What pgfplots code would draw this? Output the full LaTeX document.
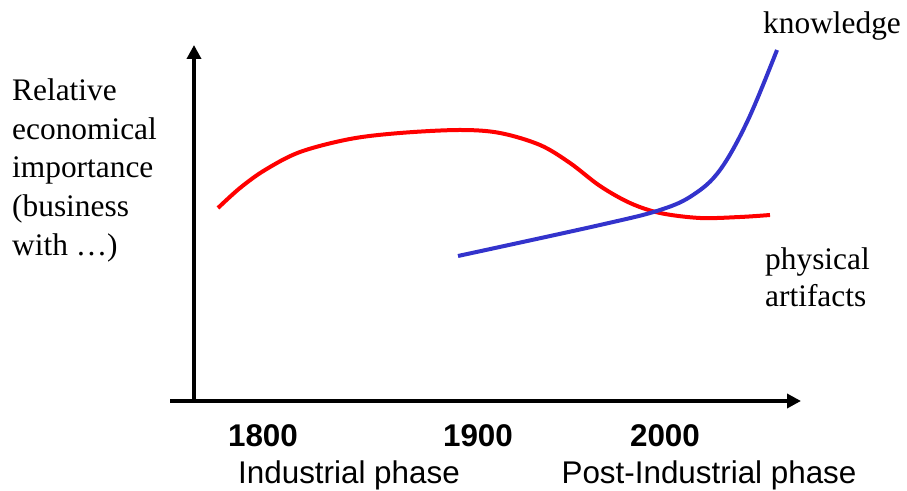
\documentclass[border=0pt]{standalone}
\usepackage{pgfplots}
\pgfplotsset{compat=1.18}
\usepackage{fontspec}
\setmainfont{Liberation Serif}
\newfontfamily\arial{Liberation Sans}
\usetikzlibrary{arrows.meta}
\definecolor{kblue}{RGB}{51,51,204}
\begin{document}
\begin{tikzpicture}
\begin{axis}[x=1bp,y=1bp,xmin=0,xmax=907,ymin=0,ymax=491,hide axis,clip=false,scale only axis]
\path (axis cs:0,0) rectangle (axis cs:907,491);
\draw[line width=4bp,-{Triangle[length=14bp,width=14bp]}] (axis cs:194,89) -- (axis cs:194,446);
\draw[line width=4bp,-{Triangle[length=14bp,width=14bp]}] (axis cs:170,90) -- (axis cs:801,90);
\addplot[red,line width=4bp,smooth,tension=0.55] coordinates {(218,283) (240,303) (265,321) (300,339) (350,352) (400,358) (460,361) (500,358) (540,346) (570,328) (600,305) (630,288) (660,278) (700,273) (740,274) (770,276)};
\addplot[kblue,line width=4bp,smooth,tension=0.6] coordinates {(458,235) (600,266) (660,281) (693,296) (720,321) (748,371) (777,441)};
\begin{scope}[every node/.style={inner sep=0pt,font=\fontsize{31.5}{38}\selectfont}]
\node[anchor=base west] at (axis cs:12,390) {Relative};
\node[anchor=base west] at (axis cs:12,351) {economical};
\node[anchor=base west] at (axis cs:12,313) {importance};
\node[anchor=base west] at (axis cs:12,274) {(business};
\node[anchor=base west] at (axis cs:12,235) {with …)};
\node[anchor=base west] at (axis cs:763,457) {knowledge};
\node[anchor=base west] at (axis cs:765,221) {physical};
\node[anchor=base west] at (axis cs:765,184) {artifacts};
\end{scope}
\begin{scope}[every node/.style={inner sep=0pt,font=\arial\fontsize{31.5}{38}\selectfont}]
\node[anchor=base] at (axis cs:263,44) {\bfseries 1800};
\node[anchor=base] at (axis cs:478,44) {\bfseries 1900};
\node[anchor=base] at (axis cs:665,44) {\bfseries 2000};
\node[anchor=base] at (axis cs:349,7) {Industrial phase};
\node[anchor=base] at (axis cs:709,7) {Post-Industrial phase};
\end{scope}
\end{axis}
\end{tikzpicture}
\end{document}
